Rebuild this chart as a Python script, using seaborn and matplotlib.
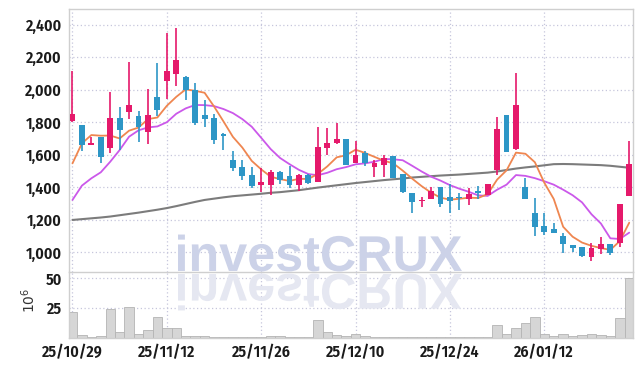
import matplotlib
matplotlib.use("Agg")
import matplotlib.pyplot as plt
import seaborn as sns
import numpy as np
from matplotlib.textpath import TextPath
from matplotlib.patches import PathPatch
from matplotlib.font_manager import FontProperties
from matplotlib.transforms import Affine2D
from matplotlib.ticker import FuncFormatter

# trading days (yy/mm/dd)
dates = ["25/10/29", "25/10/30", "25/10/31", "25/11/03", "25/11/04", "25/11/05", "25/11/06", "25/11/07",
         "25/11/10", "25/11/11", "25/11/12", "25/11/13", "25/11/14", "25/11/17", "25/11/18", "25/11/19",
         "25/11/20", "25/11/21", "25/11/24", "25/11/25", "25/11/26", "25/11/27", "25/11/28", "25/12/01",
         "25/12/02", "25/12/03", "25/12/04", "25/12/05", "25/12/08", "25/12/09", "25/12/10", "25/12/11",
         "25/12/12", "25/12/15", "25/12/16", "25/12/17", "25/12/18", "25/12/19", "25/12/22", "25/12/23",
         "25/12/24", "25/12/26", "25/12/29", "25/12/30", "26/01/02", "26/01/05", "26/01/06", "26/01/07",
         "26/01/08", "26/01/09", "26/01/12", "26/01/13", "26/01/14", "26/01/15", "26/01/16", "26/01/19",
         "26/01/20", "26/01/21", "26/01/22", "26/01/23"]

opens = [1805, 1783, 1662, 1709, 1643, 1826, 1865, 1838, 1742, 1955,
         2055, 2094, 2076, 2000, 1844, 1828, 1725, 1567, 1522, 1475,
         1416, 1416, 1494, 1469, 1416, 1477, 1434, 1643, 1674, 1697,
         1547, 1613, 1522, 1539, 1594, 1483, 1363, 1313, 1326, 1400,
         1338, 1338, 1326, 1377, 1352, 1506, 1844, 1633, 1402, 1242,
         1162, 1143, 1100, 1045, 1030, 973, 1022, 1051, 1055, 1348]
highs = [2115, 1783, 1711, 1709, 1984, 1891, 2168, 1869, 2002, 2162,
         2347, 2377, 2082, 2039, 1939, 1848, 1736, 1623, 1565, 1522,
         1516, 1504, 1500, 1533, 1483, 1483, 1768, 1762, 1797, 1697,
         1686, 1625, 1570, 1596, 1594, 1483, 1363, 1342, 1404, 1400,
         1418, 1367, 1395, 1405, 1420, 1834, 1844, 2101, 1455, 1332,
         1240, 1178, 1117, 1045, 1035, 1059, 1092, 1051, 1297, 1682]
lows = [1800, 1625, 1660, 1547, 1609, 1629, 1822, 1676, 1666, 1840,
        1941, 2023, 1937, 1785, 1768, 1664, 1629, 1500, 1445, 1397,
        1369, 1352, 1422, 1393, 1379, 1418, 1434, 1596, 1666, 1539,
        1547, 1533, 1465, 1465, 1455, 1367, 1240, 1280, 1326, 1276,
        1240, 1260, 1289, 1326, 1352, 1475, 1619, 1629, 1330, 1100,
        1106, 1121, 993, 1000, 969, 944, 987, 983, 1030, 1348]
closes = [1848, 1662, 1672, 1584, 1826, 1754, 1904, 1768, 1842, 1877,
          2113, 2181, 1996, 1797, 1820, 1693, 1718, 1520, 1471, 1410,
          1432, 1494, 1443, 1416, 1475, 1428, 1647, 1672, 1697, 1539,
          1598, 1551, 1549, 1580, 1455, 1373, 1309, 1320, 1377, 1299,
          1313, 1334, 1358, 1365, 1418, 1758, 1619, 1906, 1330, 1158,
          1125, 1121, 1049, 1028, 977, 1026, 1051, 993, 1297, 1543]

# moving averages as drawn
ma5 = [1547, 1670, 1721, 1717, 1718, 1700, 1748, 1767, 1819, 1829,
       1901, 1956, 2002, 1993, 1981, 1897, 1805, 1710, 1644, 1562,
       1510, 1465, 1450, 1439, 1452, 1451, 1482, 1528, 1584, 1597,
       1631, 1611, 1587, 1563, 1547, 1502, 1453, 1407, 1367, 1336,
       1324, 1329, 1336, 1334, 1358, 1447, 1504, 1613, 1606, 1554,
       1428, 1328, 1157, 1096, 1060, 1040, 1026, 1015, 1069, 1182]
ma10 = [1322, 1410, 1455, 1492, 1557, 1629, 1711, 1750, 1768, 1774,
        1800, 1852, 1885, 1906, 1905, 1899, 1881, 1856, 1819, 1772,
        1704, 1635, 1580, 1542, 1507, 1481, 1474, 1489, 1511, 1524,
        1541, 1547, 1557, 1574, 1572, 1566, 1532, 1497, 1465, 1441,
        1413, 1391, 1372, 1350, 1347, 1385, 1416, 1475, 1470, 1456,
        1437, 1416, 1385, 1351, 1307, 1234, 1177, 1086, 1082, 1121]
ma60 = [1199, 1204, 1209, 1214, 1220, 1228, 1236, 1244, 1253, 1262,
        1272, 1284, 1297, 1310, 1322, 1330, 1338, 1345, 1350, 1355,
        1360, 1366, 1370, 1376, 1382, 1390, 1398, 1405, 1412, 1419,
        1426, 1432, 1438, 1444, 1449, 1454, 1460, 1464, 1468, 1472,
        1475, 1478, 1482, 1486, 1490, 1497, 1506, 1515, 1522, 1528,
        1535, 1542, 1543, 1542, 1540, 1538, 1536, 1532, 1526, 1520]

# volume in millions
volumes = [21.6, 2.5, 0.8, 1.6, 23.8, 5.0, 25.7, 3.3, 6.4, 17.4,
           8.0, 8.0, 1.4, 1.4, 1.4, 0.8, 0.8, 0.6, 0.6, 0.6,
           0.8, 1.1, 1.1, 0.8, 0.8, 0.8, 14.6, 4.8, 2.5, 1.5,
           3.1, 1.2, 0.6, 0.6, 0.6, 0.6, 0.6, 0.3, 0.6, 0.6,
           0.6, 0.3, 0.6, 0.3, 0.3, 10.5, 3.0, 8.0, 12.2, 17.1,
           3.0, 1.4, 3.0, 1.4, 2.5, 3.0, 2.2, 1.4, 16.3, 50.4]

price_ticks = [1000, 1200, 1400, 1600, 1800, 2000, 2200, 2400]
vol_ticks = [25, 50]

RED = "#e5196b"
BLUE = "#2d96c6"
ORANGE = "#ef8650"
PURPLE = "#cb58ea"
GRAY = "#7c7c7c"
GRID = "#c6c6dc"
SPINE = "#cfcfcf"

sns.set_theme(style="white")
plt.rcParams["font.family"] = ["Fira Sans Condensed", "DejaVu Sans"]

W, H = 642, 366
fig = plt.figure(figsize=(W / 100, H / 100), dpi=100)
left, right = 68.7, 633
ax = fig.add_axes([left / W, 1 - 272 / H, (right - left) / W, (272 - 9) / H])
axv = fig.add_axes([left / W, 1 - 337.5 / H, (right - left) / W, (337.5 - 272) / H], sharex=ax)

x = np.arange(len(dates))
o = np.array(opens); c = np.array(closes)
cols = np.where(c >= o, RED, BLUE)

# moving averages
sns.lineplot(x=x, y=ma60, ax=ax, color=GRAY, lw=1.5, zorder=2)
sns.lineplot(x=x, y=ma10, ax=ax, color=PURPLE, lw=1.3, zorder=2)
sns.lineplot(x=x, y=ma5, ax=ax, color=ORANGE, lw=1.3, zorder=2)

# candles
ax.vlines(x, lows, highs, colors=cols, lw=1.2, zorder=3)
body_low = np.minimum(o, c)
body_h = np.maximum(np.abs(c - o), 5)
ax.bar(x, body_h, bottom=body_low, width=0.62, color=cols, linewidth=0, zorder=4)

# volume
axv.bar(x, volumes, width=1.0, color="#d6d6d6", edgecolor="#b4b4b4", linewidth=0.6, zorder=2)

tick_idx = x[::10]
tick_lab = dates[::10]

ax.set_xlim(-0.4, len(dates) - 0.6)
ax.set_ylim(879, 2496)
axv.set_ylim(0, 55.5)

ax.set_yticks(price_ticks)
ax.yaxis.set_major_formatter(FuncFormatter(lambda v, p: f"{int(v):,}"))
axv.set_yticks(vol_ticks)
axv.set_xticks(tick_idx)
axv.set_xticklabels(tick_lab)
plt.setp(ax.get_xticklabels(), visible=False)

for a in (ax, axv):
    a.set_facecolor("none")
    a.grid(True, linestyle=(0, (1, 2)), color=GRID, lw=0.9)
    a.set_axisbelow(True)
    a.tick_params(axis="both", length=0, labelsize=11.5, labelcolor="#1a1a1a", pad=5)
    for lab in a.get_yticklabels() + a.get_xticklabels():
        lab.set_fontweight(600)
    for s in a.spines.values():
        s.set_color(SPINE)
        s.set_linewidth(1.0)
    a.set_xlabel("")
ax.set_ylabel("")
axv.spines["top"].set_visible(False)
axv.set_ylabel(r"$10^6$", fontsize=10, color="#333333", family="DejaVu Sans")
axv.yaxis.set_label_coords((38 - left) / (right - left), 0.57)

# watermark with reflection
wm = fig.add_axes([0, 0, 1, 1], zorder=5)
wm.set_xlim(0, W)
wm.set_ylim(H, 0)
wm.axis("off")
wm.patch.set_alpha(0)
tp = TextPath((0, 0), "investCRUX", size=1, prop=FontProperties(family="Liberation Sans", weight="bold"))
ext = tp.get_extents()
s = (462 - 178) / ext.width
tx = 178 - ext.x0 * s
wm.add_patch(PathPatch(tp, transform=Affine2D().scale(s, -s).translate(tx, 271) + wm.transData,
                       color="#ccd2e8", lw=0, zorder=1))
wm.add_patch(PathPatch(tp, transform=Affine2D().scale(s, s).translate(tx, 274) + wm.transData,
                       color="#e5e7f1", lw=0, zorder=1))

fig.savefig("out.png", dpi=100, facecolor="white")
